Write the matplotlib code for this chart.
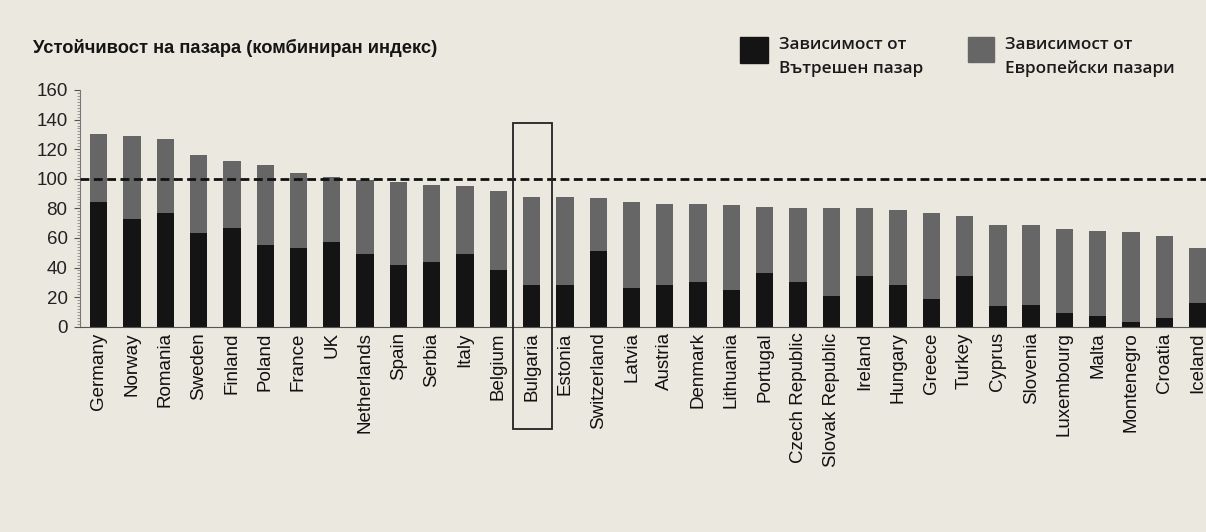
import matplotlib
matplotlib.use("Agg")
import matplotlib.pyplot as plt
from matplotlib.patches import Rectangle
from matplotlib.ticker import MultipleLocator
import numpy as np

countries = ["Germany", "Norway", "Romania", "Sweden", "Finland", "Poland", "France", "UK",
             "Netherlands", "Spain", "Serbia", "Italy", "Belgium", "Bulgaria", "Estonia",
             "Switzerland", "Latvia", "Austria", "Denmark", "Lithuania", "Portugal",
             "Czech Republic", "Slovak Republic", "Ireland", "Hungary", "Greece", "Turkey",
             "Cyprus", "Slovenia", "Luxembourg", "Malta", "Montenegro", "Croatia", "Iceland"]
total = [130, 129, 127, 116, 112, 109, 104, 101, 99, 98, 96, 95, 92, 88, 88, 87, 84, 83, 83,
         82, 81, 80, 80, 80, 79, 77, 75, 69, 69, 66, 65, 64, 61, 53]
domestic = [84, 73, 77, 63, 67, 55, 53, 57, 49, 42, 44, 49, 38, 28, 28, 51, 26, 28, 30, 25,
            36, 30, 21, 34, 28, 19, 34, 14, 15, 9, 7, 3, 6, 16]
european = [t - d for t, d in zip(total, domestic)]
reference_level = 100
highlight = "Bulgaria"

title = "Устойчивост на пазара (комбиниран индекс)"
leg_domestic = "Зависимост от\nВътрешен пазар"
leg_european = "Зависимост от\nЕвропейски пазари"

bg = "#EBE8E0"
c_dom = "#141414"
c_eur = "#666666"

W, H = 1206, 532
fig = plt.figure(figsize=(W / 100, H / 100), dpi=100, facecolor=bg)
ax = fig.add_axes([80 / W, 1 - 326.7 / H, 1 - 80 / W, (326.7 - 90) / H])
ax.set_facecolor(bg)

x = np.arange(len(countries))
bw = 0.52
ax.bar(x, domestic, width=bw, color=c_dom, zorder=2)
ax.bar(x, european, width=bw, bottom=domestic, color=c_eur, zorder=2)
ax.axhline(reference_level, color="#111111", lw=2.0, ls=(0, (3.2, 1.6)), zorder=3)

ax.set_xlim(-0.56, len(countries) - 1 + 0.25)
ax.set_ylim(0, 160)
ax.yaxis.set_major_locator(MultipleLocator(20))
ax.yaxis.set_minor_locator(MultipleLocator(2))
ax.tick_params(axis="y", which="major", length=4, width=0.8, color="#555555",
               labelsize=13.5, labelcolor="#222222", pad=5)
ax.tick_params(axis="y", which="minor", length=2, width=0.5, color="#777777")
for s in ["top", "right"]:
    ax.spines[s].set_visible(False)
ax.spines["left"].set_color("#777777")
ax.spines["bottom"].set_color("#555555")
ax.spines["left"].set_linewidth(0.8)

ax.set_xticks(x)
ax.set_xticklabels(countries, rotation=90, fontsize=13.5, color="#111111",
                   family="Liberation Sans")
ax.tick_params(axis="x", length=0, pad=4)
for lab in ax.get_yticklabels():
    lab.set_family("Liberation Sans")

# highlight box around Bulgaria
i = countries.index(highlight)
rect = Rectangle((i - 0.56, -69), 1.17, 138 + 69, fill=False, edgecolor="#222222",
                 lw=1.3, clip_on=False, zorder=4)
ax.add_patch(rect)

fig.text(33 / W, 1 - 48 / H, title, fontsize=13.2, fontweight="bold", color="#151515",
         family="Liberation Sans", va="center", ha="left")

# legend
fig.patches.append(Rectangle((740 / W, 1 - 63 / H), 28 / W, 26 / H, transform=fig.transFigure,
                             color=c_dom, figure=fig))
fig.patches.append(Rectangle((968 / W, 1 - 62 / H), 26 / W, 25 / H, transform=fig.transFigure,
                             color=c_eur, figure=fig))
fig.text(779 / W, 1 - 57 / H, leg_domestic, fontsize=12.3, color="#1a1a1a",
         family="Open Sans", fontweight="semibold", va="center", ha="left", linespacing=1.65)
fig.text(1005 / W, 1 - 57 / H, leg_european, fontsize=12.3, color="#1a1a1a",
         family="Open Sans", fontweight="semibold", va="center", ha="left", linespacing=1.65)

fig.savefig("out.png", dpi=100, facecolor=bg)
